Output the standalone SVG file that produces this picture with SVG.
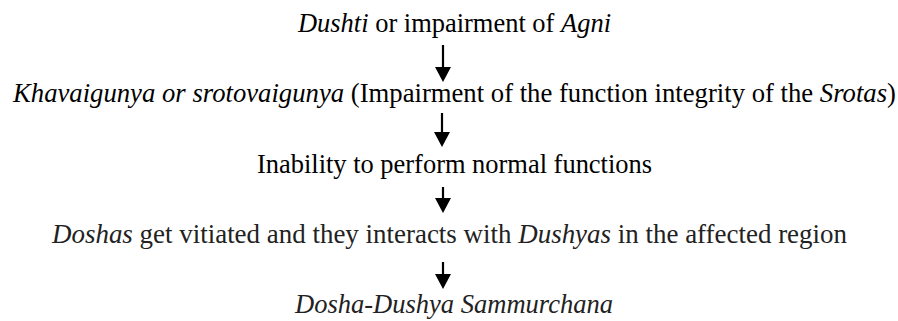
<svg xmlns="http://www.w3.org/2000/svg" width="898" height="321" viewBox="0 0 898 321">
  <style>
    .t { font-family: "Liberation Serif", "Times New Roman", serif; font-size: 26.5px; fill: #000; }
    .g { fill: #222; }
    .i { font-style: italic; }
    .c { stroke: #000; stroke-width: 2.2; fill: none; }
  </style>
  <defs>
    <marker id="ah" viewBox="0 0 15 16" refX="10" refY="8" markerWidth="15" markerHeight="16" markerUnits="userSpaceOnUse" orient="auto">
      <path d="M0,0 L15,8 L0,16 z" fill="#000"/>
    </marker>
  </defs>
  <rect width="898" height="321" fill="#fff"/>
  <g id="n1"><text class="t" x="298" y="32" textLength="313" lengthAdjust="spacingAndGlyphs"><tspan class="i">Dushti</tspan> or impairment of <tspan class="i">Agni</tspan></text></g>
  <g id="n2"><text class="t" x="13" y="102" textLength="883" lengthAdjust="spacingAndGlyphs"><tspan class="i">Khavaigunya or srotovaigunya</tspan> (Impairment of the function integrity of the <tspan class="i">Srotas</tspan>)</text></g>
  <g id="n3"><text class="t" x="257" y="173" textLength="395" lengthAdjust="spacingAndGlyphs">Inability to perform normal functions</text></g>
  <g id="n4"><text class="t g" x="52" y="243" textLength="795" lengthAdjust="spacingAndGlyphs"><tspan class="i">Doshas</tspan> get vitiated and they interacts with <tspan class="i">Dushyas</tspan> in the affected region</text></g>
  <g id="n5"><text class="t g i" x="295" y="313" textLength="318" lengthAdjust="spacingAndGlyphs">Dosha-Dushya Sammurchana</text></g>
  <g id="connectors">
    <line class="c" x1="443" y1="45" x2="443" y2="77" marker-end="url(#ah)"/>
    <line class="c" x1="442" y1="113" x2="442" y2="142" marker-end="url(#ah)"/>
    <line class="c" x1="443" y1="187" x2="443" y2="208" marker-end="url(#ah)"/>
    <line class="c" x1="443" y1="262" x2="443" y2="284" marker-end="url(#ah)"/>
  </g>
</svg>
